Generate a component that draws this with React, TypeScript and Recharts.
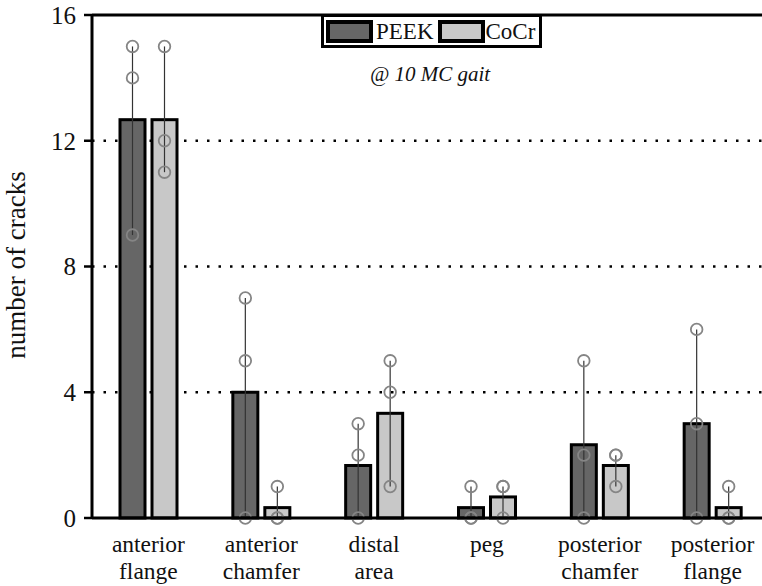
import React from "react";
import { BarChart, Bar, XAxis, YAxis, CartesianGrid, ReferenceLine } from "recharts";

const categories = [
  "anterior\nflange",
  "anterior\nchamfer",
  "distal\narea",
  "peg",
  "posterior\nchamfer",
  "posterior\nflange",
];
const peekMean = [12.67, 4, 1.67, 0.33, 2.33, 3];
const cocrMean = [12.67, 0.33, 3.33, 0.67, 1.67, 0.33];
const peekPoints = [[15, 14, 9], [7, 5, 0], [3, 2, 0], [1, 0, 0], [5, 2, 0], [6, 3, 0]];
const cocrPoints = [[15, 12, 11], [1, 0, 0], [5, 4, 1], [1, 1, 0], [2, 2, 1], [1, 0, 0]];
const yTicks = [0, 4, 8, 12, 16];
const gridValues = [4, 8, 12];

const FONT = '"Liberation Serif", "Times New Roman", serif';
const PEEK_FILL = "#666666";
const COCR_FILL = "#c8c8c8";

const data = categories.map((c, i) => ({
  category: c,
  peek: peekMean[i],
  cocr: cocrMean[i],
  peekPts: peekPoints[i],
  cocrPts: cocrPoints[i],
}));

// bar with its range line and the single specimens drawn on top
function makeBarShape(fill: string, key: "peek" | "cocr") {
  return (props: any) => {
    const { x, y, width, height, payload } = props;
    const mean = payload[key];
    const pts: number[] = payload[key + "Pts"];
    const base = y + height;
    const k = height / mean;
    const toY = (v: number) => base - v * k;
    const cx = x + width / 2;
    const lo = Math.min(...pts);
    const hi = Math.max(...pts);
    return (
      <g>
        <rect x={x} y={y} width={width} height={height} fill={fill} stroke="#000" strokeWidth={3} />
        <line x1={cx} x2={cx} y1={toY(lo)} y2={toY(hi)} stroke="#333" strokeWidth={1.2} />
        {pts.map((v, i) => (
          <circle key={i} cx={cx} cy={toY(v)} r={5.8} fill="none" stroke="#858585" strokeWidth={1.8} />
        ))}
      </g>
    );
  };
}

function CategoryTick({ x, y, payload }: any) {
  const lines = String(payload.value).split("\n");
  return (
    <g>
      {lines.map((l, i) => (
        <text
          key={i}
          x={x}
          y={y + 34 + i * 26.5}
          textAnchor="middle"
          fontFamily={FONT}
          fontSize={23.5}
          fill="#111"
        >
          {l}
        </text>
      ))}
    </g>
  );
}

function YLabel() {
  return (
    <text
      x={25}
      y={265}
      transform="rotate(-90 25 265)"
      textAnchor="middle"
      fontFamily={FONT}
      fontSize={27}
      fill="#111"
    >
      number of cracks
    </text>
  );
}

function Swatch({ fill }: { fill: string }) {
  return (
    <span
      style={{
        display: "inline-block",
        boxSizing: "border-box",
        width: 47,
        height: 23,
        background: fill,
        border: "4px solid #000",
        flex: "none",
      }}
    />
  );
}

export default function App() {
  return (
    <div
      style={{
        position: "fixed",
        left: 0,
        top: 0,
        width: 762,
        height: 586,
        overflow: "hidden",
        background: "#fff",
      }}
    >
      <BarChart
        width={769}
        height={586}
        data={data}
        margin={{ top: 15, right: 0, bottom: 0, left: 0 }}
        barSize={25}
        barGap={7}
      >
        <CartesianGrid
          vertical={false}
          horizontalValues={gridValues}
          stroke="#000"
          strokeWidth={2.5}
          strokeDasharray="2.5 9"
        />
        <XAxis
          dataKey="category"
          height={68}
          tickSize={0}
          tickMargin={0}
          tickLine={false}
          axisLine={{ stroke: "#000", strokeWidth: 3 }}
          tick={<CategoryTick />}
          interval={0}
        />
        <YAxis
          width={92}
          domain={[0, 16]}
          ticks={yTicks}
          tickSize={8}
          tickMargin={8}
          axisLine={{ stroke: "#000", strokeWidth: 3 }}
          tickLine={{ stroke: "#000", strokeWidth: 2.5 }}
          tick={{ fontFamily: FONT, fontSize: 25, fill: "#111" }}
          label={<YLabel />}
        />
        <ReferenceLine y={16} stroke="#000" strokeWidth={3} />
        <Bar dataKey="peek" name="PEEK" fill={PEEK_FILL} shape={makeBarShape(PEEK_FILL, "peek")} isAnimationActive={false} />
        <Bar dataKey="cocr" name="CoCr" fill={COCR_FILL} shape={makeBarShape(COCR_FILL, "cocr")} isAnimationActive={false} />
      </BarChart>
      <div
        style={{
          position: "absolute",
          boxSizing: "border-box",
          left: 321,
          top: 14,
          width: 221,
          height: 34,
          border: "3px solid #000",
          background: "#fff",
          display: "flex",
          alignItems: "center",
          paddingLeft: 2,
          fontFamily: FONT,
          fontSize: 23,
          color: "#111",
          lineHeight: 1,
        }}
      >
        <Swatch fill={PEEK_FILL} />
        <span style={{ marginLeft: 3, marginRight: 4 }}>PEEK</span>
        <Swatch fill={COCR_FILL} />
        <span style={{ marginLeft: 1 }}>CoCr</span>
      </div>
      <div
        style={{
          position: "absolute",
          left: 0,
          width: 860,
          top: 62,
          textAlign: "center",
          fontFamily: FONT,
          fontStyle: "italic",
          fontSize: 21,
          color: "#111",
        }}
      >
        @ 10 MC gait
      </div>
    </div>
  );
}
